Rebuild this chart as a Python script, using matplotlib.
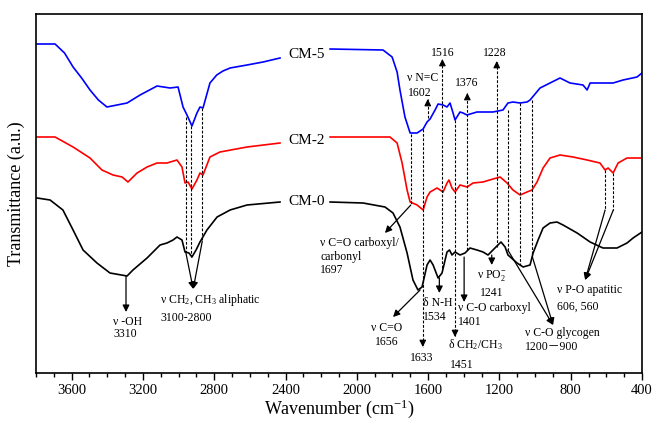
import matplotlib.pyplot as plt
from matplotlib.ticker import MultipleLocator
import numpy as np

plt.rcParams['font.family'] = ['Liberation Serif', 'Noto Sans CJK SC']
plt.rcParams['mathtext.fontset'] = 'custom'
plt.rcParams['mathtext.rm'] = 'Liberation Serif'
plt.rcParams['mathtext.it'] = 'Liberation Serif:italic'

# FTIR spectra, wavenumber (cm-1) and transmittance (a.u., offset)
cm5_wn = [3794, 3693, 3640, 3592, 3544, 3497, 3450, 3402, 3289, 3216, 3121, 3048, 3003, 2975,
          2953, 2925, 2897, 2880, 2863, 2824, 2786, 2751, 2711, 2616, 2526, 2431, 2150, 1853,
          1802, 1774, 1758, 1730, 1701, 1662, 1628, 1606, 1589, 1561, 1544, 1516, 1494, 1477,
          1460, 1449, 1421, 1404, 1382, 1326, 1236, 1180, 1152, 1124, 1084, 1045, 1028, 972,
          916, 860, 804, 731, 708, 691, 652, 562, 506, 428, 400]
cm5_t = [329, 329, 320, 306, 295, 283, 273, 266, 270, 278, 287, 285, 286, 266,
         258, 247, 260, 266, 265, 290, 298, 302, 305, 308, 311, 315, 324, 323,
         316, 301, 283, 256, 240, 240, 244, 251, 254, 263, 269, 268, 266, 270,
         260, 253, 261, 260, 258, 261, 261, 263, 270, 271, 270, 271, 273, 285,
         290, 295, 290, 288, 283, 290, 290, 290, 293, 296, 300]

cm2_wn = [3794, 3693, 3592, 3497, 3430, 3368, 3317, 3284, 3233, 3177, 3121, 3065, 3009, 2981,
          2964, 2947, 2925, 2897, 2880, 2863, 2824, 2768, 2616, 2431, 2150, 1814, 1774, 1746,
          1718, 1701, 1662, 1628, 1606, 1589, 1550, 1516, 1494, 1483, 1466, 1449, 1421, 1381,
          1348, 1292, 1236, 1196, 1157, 1124, 1084, 1045, 1017, 989, 955, 916, 860, 787, 708,
          636, 607, 590, 562, 534, 484, 411, 400]
cm2_t = [236, 236, 226, 215, 203, 198, 196, 191, 200, 206, 210, 210, 213, 206,
         190, 191, 184, 193, 200, 198, 216, 221, 226, 230, 236, 236, 230, 210,
         183, 171, 168, 163, 176, 181, 185, 181, 190, 193, 185, 181, 188, 186,
         190, 191, 194, 196, 190, 183, 178, 181, 183, 191, 205, 215, 218, 216, 213,
         210, 203, 205, 200, 210, 215, 215, 215]

cm0_wn = [3794, 3721, 3649, 3592, 3536, 3458, 3385, 3289, 3256, 3177, 3104, 3065, 3031, 3009,
          2981, 2964, 2942, 2925, 2902, 2880, 2841, 2784, 2711, 2616, 2431, 2150, 1965, 1842,
          1797, 1758, 1718, 1685, 1657, 1634, 1606, 1589, 1572, 1544, 1522, 1494, 1480, 1466,
          1449, 1421, 1393, 1365, 1326, 1292, 1264, 1225, 1191, 1168, 1152, 1101, 1067, 1028,
          1011, 983, 955, 916, 877, 843, 764, 691, 619, 540, 484, 450, 400]
cm0_t = [175, 173, 163, 143, 123, 110, 100, 97, 103, 115, 128, 130, 133, 136,
         133, 121, 120, 116, 123, 131, 143, 156, 163, 168, 171, 171, 170, 166,
         160, 146, 120, 93, 83, 86, 108, 113, 108, 95, 100, 121, 123, 118,
         121, 118, 120, 125, 123, 121, 118, 125, 131, 126, 118, 110, 106, 108,
         120, 133, 145, 150, 151, 148, 140, 131, 125, 125, 130, 135, 141]

spectra = [('CM-5', cm5_wn, cm5_t, '#0000ff', 318),
           ('CM-2', cm2_wn, cm2_t, '#ff0000', 232),
           ('CM-0', cm0_wn, cm0_t, 'black', 172)]

# dashed guide lines: wavenumber, from, to
guide_lines = [(2960, 256, 121), (2930, 247, 116), (2867, 265, 132), (1697, 239, 168),
               (1153, 263, 123), (1084, 270, 108), (1015, 273, 116), (607, 203, 163),
               (561, 200, 163)]
# dashed arrows: wavenumber, from, tip
guide_arrows = [(1630, 244, 26), (1602, 255, 274), (1520, 105, 314), (1449, 253, 36),
                (1380, 123, 280), (1215, 126, 312)]
# solid arrows: start, tip
solid_arrows = [((3295, 97), (3295, 61)), ((2960, 121), (2918, 84)), ((2867, 132), (2918, 84)),
                ((1697, 168), (1842, 140)), ((1645, 83), (1797, 56)), ((1537, 95), (1537, 80)),
                ((1398, 116), (1398, 71)), ((1243, 118), (1243, 108)), ((1153, 123), (899, 48)),
                ((1015, 116), (899, 48)), ((607, 163), (719, 93)), ((561, 163), (719, 93))]

labels = [(3368, 51, r'ν -OH', 'left'), (3368, 39, '3310', 'left'),
          (3104, 73, r'ν CH$_2$, CH$_3$ aliphatic', 'left'), (3104, 55, '3100-2800', 'left'),
          (2206, 130, 'ν C=O carboxyl/', 'left'), (2206, 116, 'carbonyl', 'left'),
          (2206, 103, '1697', 'left'),
          (1830, 45, 'ν C=O', 'center'), (1830, 31, '1656', 'center'),
          (1634, 15, '1633', 'center'),
          (1629, 70, 'δ N-H', 'left'), (1629, 56, '1534', 'left'),
          (1488, 28, r'δ CH$_2$/CH$_3$', 'left'), (1477, 8, '1451', 'left'),
          (1434, 65, 'ν C-O carboxyl', 'left'), (1434, 51, '1401', 'left'),
          (1241, 98, r'ν PO$_2^{-}$', 'center'), (1241, 80, '1241', 'center'),
          (1056, 40, 'ν C-O glycogen', 'left'), (1056, 26, '1200－900', 'left'),
          (877, 83, 'ν P-O apatitic', 'left'), (877, 66, '606, 560', 'left'),
          (1629, 295, 'ν N=C', 'center'), (1645, 280, '1602', 'center'),
          (1516, 320, '1516', 'center'), (1382, 290, '1376', 'center'),
          (1225, 320, '1228', 'center')]

fig = plt.figure(figsize=(6.54, 4.23), dpi=100)
ax = fig.add_axes([36/654, 1-373/423, 606/654, 359/423])

for name, wn, t, col, ly in spectra:
    wn = np.array(wn)
    t = np.array(t)
    left = wn >= 2431
    right = wn <= 2150
    ax.plot(wn[left], t[left], color=col, lw=1.2)
    ax.plot(wn[right], t[right], color=col, lw=1.2)
    ax.text(2279, ly, name, ha='center', va='center', fontsize=11)

for x, y0, y1 in guide_lines:
    ax.plot([x, x], [y0, y1], color='black', lw=0.8, ls=(0, (2.5, 1.5)))

for x, y0, y1 in guide_arrows:
    ax.plot([x, x], [y0, y1], color='black', lw=0.8, ls=(0, (2.5, 1.5)))
    d = 6 if y1 > y0 else -6
    ax.annotate('', xy=(x, y1), xytext=(x, y1 - d),
                arrowprops=dict(arrowstyle='-|>', color='black', lw=0.8,
                                mutation_scale=10, shrinkA=0, shrinkB=0))

for start, tip in solid_arrows:
    ax.annotate('', xy=tip, xytext=start,
                arrowprops=dict(arrowstyle='-|>', color='black', lw=0.9,
                                mutation_scale=10, shrinkA=0, shrinkB=0))

for x, y, s, ha in labels:
    ax.text(x, y, s, ha=ha, va='center', fontsize=8.5)

ax.set_xlim(3800, 400)
ax.set_ylim(0, 359)
ax.set_xticks(np.arange(400, 3601, 400))
ax.xaxis.set_minor_locator(MultipleLocator(100))
ax.set_yticks([])
ax.tick_params(axis='x', which='major', direction='out', length=5, width=1, labelsize=10.5, pad=3)
ax.tick_params(axis='x', which='minor', direction='out', length=3, width=1)
for sp in ax.spines.values():
    sp.set_linewidth(1.2)
ax.set_xlabel('Wavenumber (cm$^{-1}$)', fontsize=13, labelpad=0)
ax.set_ylabel('Transmittance (a.u.)', fontsize=13, labelpad=8)

fig.savefig('out.png', dpi=100)
